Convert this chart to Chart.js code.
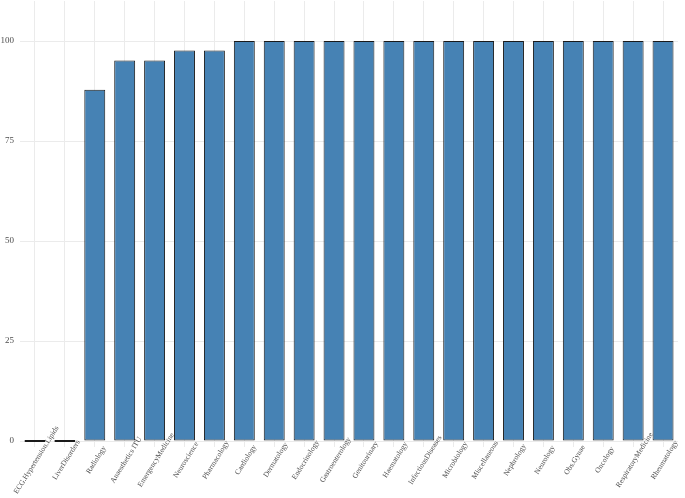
<!DOCTYPE html>
<html>
<head>
<meta charset="utf-8">
<script src="https://cdn.jsdelivr.net/npm/chart.js@4"></script>
<style>
    html, body { margin: 0; padding: 0; background: #ffffff; }
    #wrap { width: 685px; height: 498px; }
</style>
</head>
<body>
<div id="wrap"><canvas id="myChart" width="685" height="498"></canvas></div>
<script>
// categories and values
const specialties = ["ECG.Hypertension.Lipids", "LiverDisorders", "Radiology", "Anaesthetics ITU",
    "EmergencyMedicine", "Neuroscience", "Pharmacology", "Cardiology", "Dermatology", "Endocrinology",
    "Gastroenterology", "Genitourinary", "Haematology", "InfectiousDiseases", "Microbiology",
    "Miscellaneous", "Nephrology", "Neurology", "Obs.Gynae", "Oncology", "RespiratoryMedicine", "Rheumatology"];
const percentValues = [0, 0, 87.8, 95.1, 95.1, 97.6, 97.6, 100, 100, 100,
    100, 100, 100, 100, 100, 100, 100, 100, 100, 100, 100, 100];
const yTicks = [0, 25, 50, 75, 100];

// rotated x labels centred on their tick (chart.js anchors rotated labels at the end)
const centredLabels = {
    id: 'centredLabels',
    afterDraw: function (chart) {
        const c = chart.ctx;
        const xs = chart.scales.x;
        c.save();
        c.fillStyle = '#4d4d4d';
        c.font = '7.5px "Liberation Serif"';
        c.textAlign = 'center';
        c.textBaseline = 'middle';
        chart.data.labels.forEach(function (lab, i) {
            const px = xs.getPixelForTick(i);
            c.save();
            c.translate(px + 1.5, 460);
            c.rotate(-58 * Math.PI / 180);
            c.fillText(lab, 0, 0);
            c.restore();
        });
        c.restore();
    }
};

const ctx = document.getElementById('myChart').getContext('2d');

new Chart(ctx, {
    type: 'bar',
    data: {
        labels: specialties,
        datasets: [{
            data: percentValues,
            backgroundColor: '#4682B4',
            borderColor: '#1a1a1a',
            borderWidth: 1,
            borderSkipped: false,
            minBarLength: 2, // zero rows still show as a dark line
            barPercentage: 0.7,
            categoryPercentage: 1.0
        }]
    },
    plugins: [centredLabels],
    options: {
        responsive: false,
        animation: false,
        layout: { padding: { top: 1, right: 7, left: 0, bottom: 0 } },
        plugins: {
            legend: { display: false },
            tooltip: { enabled: false }
        },
        scales: {
            x: {
                offset: true,
                grid: { color: '#ebebeb', lineWidth: 1, offset: false, drawTicks: false },
                border: { display: false },
                ticks: { display: false },
                afterFit: function (axis) {
                    axis.height = 51;
                    axis.paddingLeft = 0;
                    axis.paddingRight = 0;
                }
            },
            y: {
                min: -1.5,
                max: 110,
                afterBuildTicks: function (axis) {
                    axis.ticks = yTicks.map(function (v) { return { value: v }; });
                },
                grid: { color: '#ebebeb', lineWidth: 1, drawTicks: false },
                border: { display: false },
                ticks: {
                    padding: 6,
                    color: '#4d4d4d',
                    font: { family: 'Liberation Serif', size: 9 }
                },
                afterFit: function (axis) {
                    axis.width = 20;
                    axis.paddingTop = 0;
                    axis.paddingBottom = 0;
                }
            }
        }
    }
});
</script>
</body>
</html>
